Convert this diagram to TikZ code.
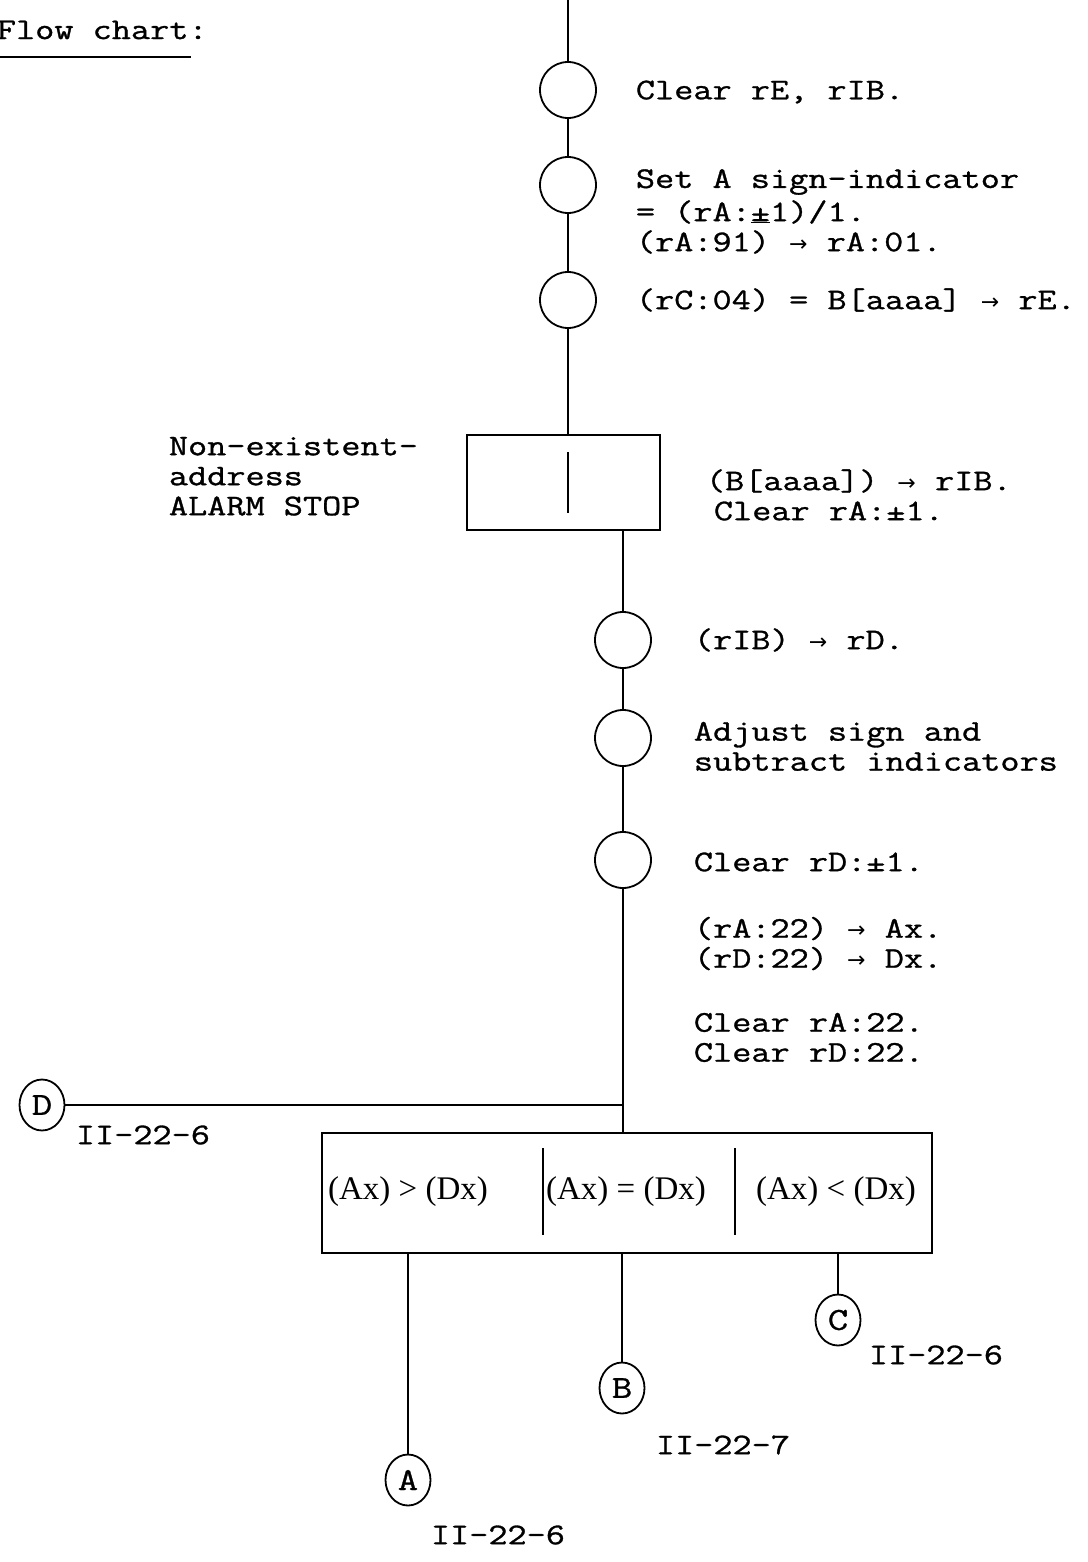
\documentclass[tikz,border=0pt]{standalone}
\usepackage{fontspec}
\usetikzlibrary{shapes.geometric}
\newfontfamily\tw{Latin Modern Mono}[FakeBold=1,FakeStretch=1.24]
\newfontfamily\sr{Liberation Serif}
\newfontfamily\arr{DejaVu Sans}
\newcommand{\ra}{{\arr\fontsize{22}{22}\selectfont →}}
\newcommand{\twN}{\tw\fontsize{30}{30}\selectfont\lineskiplimit-30pt\relax}
\begin{document}
\begin{tikzpicture}[x=1pt,y=-1pt,line width=1.8pt,
  circ/.style={draw,circle,minimum size=56pt,inner sep=0pt},
  conn/.style={draw,ellipse,minimum width=45pt,minimum height=51pt,inner sep=0pt,font=\tw\fontsize{32}{32}\selectfont},
  txt/.style={anchor=west,align=left,inner sep=0pt,font=\twN},
  cmp/.style={font=\sr\fontsize{33}{33}\selectfont,inner sep=0pt}]
\useasboundingbox (0,0) rectangle (1087,1562);
% title
\node[txt] (title) at (-4,30) {Flow chart:};
\draw[line width=1.5pt] (0,57) -- (191,57);
% top chain
\coordinate (top) at (568,0);
\node[circ] (c1) at (568,90) {};
\node[circ] (c2) at (568,185) {};
\node[circ] (c3) at (568,300) {};
\node[draw,minimum width=193pt,minimum height=95pt,inner sep=0pt] (alarm) at (563.5,482.5) {};
\coordinate (aIn) at (568,435);
\coordinate (aOut) at (623,530);
\draw (568,452) -- (568,513);
\node[circ] (c4) at (623,640) {};
\node[circ] (c5) at (623,738) {};
\node[circ] (c6) at (623,860) {};
% compare box
\node[draw,minimum width=610pt,minimum height=120pt,inner sep=0pt] (cmpbox) at (627,1193) {};
\coordinate (cIn) at (623,1133);
\coordinate (join) at (623,1105);
\draw (543,1148) -- (543,1235);
\draw (735,1148) -- (735,1235);
\node[cmp] (gt) at (408,1192) {(Ax) > (Dx)};
\node[cmp] (eq) at (626,1192) {(Ax) = (Dx)};
\node[cmp] (lt) at (836,1192) {(Ax) < (Dx)};
% connectors
\node[conn] (D) at (42,1105) {D};
\node[conn] (A) at (408,1480) {A};
\node[conn] (B) at (622,1388) {B};
\node[conn] (C) at (838,1320) {C};
\coordinate (oA) at (408,1253);
\coordinate (oB) at (622,1253);
\coordinate (oC) at (838,1253);
% lines
\draw (top) -- (c1.north);
\draw (c1) -- (c2);
\draw (c2) -- (c3);
\draw (c3.south) -- (aIn);
\draw (aOut) -- (c4.north);
\draw (c4) -- (c5);
\draw (c5) -- (c6);
\draw (c6.south) -- (cIn);
\draw (D.east) -- (join);
\draw (oA) -- (A.north);
\draw (oB) -- (B.north);
\draw (oC) -- (C.north);
% texts
\node[txt] (t1) at (635,92) {Clear rE, rIB.};
\node[txt] (t2a) at (635,182) {Set A sign-indicator};
\node[txt] (t2b) at (635,212) {= (rA:\underline{±}1)/1.};
\node[txt] (t2c) at (635,242) {(rA:91) \ra{} rA:01.};
\node[txt] (t3) at (635,300) {(rC:04) = B[aaaa] \ra{} rE.};
\node[txt,anchor=north west] (t4) at (168,436) {Non-existent-\\address\\ALARM STOP};
\node[txt] (t5) at (705,481) {(B[aaaa]) \ra{} rIB.};
\node[txt] (t6) at (713,511) {Clear rA:±1.};
\node[txt] (t7) at (693,640) {(rIB) \ra{} rD.};
\node[txt,anchor=north west] (t8) at (693,721) {Adjust sign and\\subtract indicators};
\node[txt] (t9) at (693,862) {Clear rD:±1.};
\node[txt,anchor=north west] (t10) at (693,916) {(rA:22) \ra{} Ax.\\(rD:22) \ra{} Dx.};
\node[txt,anchor=north west] (t11) at (693,1012) {Clear rA:22.\\Clear rD:22.};
\node[txt] (lD) at (75,1135) {II-22-6};
\node[txt] (lA) at (430,1535) {II-22-6};
\node[txt] (lB) at (655,1445) {II-22-7};
\node[txt] (lC) at (868,1355) {II-22-6};
\end{tikzpicture}
\end{document}
